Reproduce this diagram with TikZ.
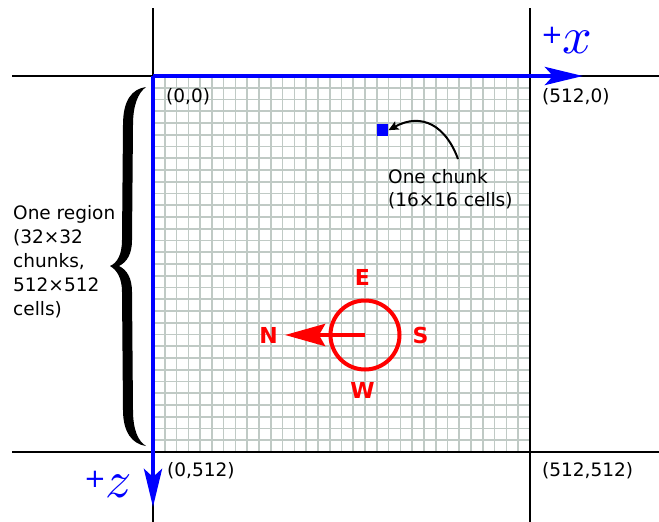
\documentclass[tikz,border=0pt]{standalone}
\usepackage{graphicx}
\usepackage{fontspec}
\setmainfont{DejaVu Sans}
\usetikzlibrary{arrows.meta}
\definecolor{gridc}{RGB}{192,202,197}
\definecolor{axblue}{RGB}{0,0,255}
\definecolor{cred}{RGB}{255,0,0}
\tikzset{
  gridline/.style={gridc, line width=1.6},
  frameline/.style={black, line width=2},
  axis/.style={axblue, line width=4.5, -{Stealth[length=38pt,width=18pt,inset=8pt]}},
  lbl/.style={inner sep=0, font=\fontsize{18.5}{24}\selectfont},
  dirlbl/.style={inner sep=0, text=cred, font=\fontsize{22}{24}\selectfont\bfseries},
}
\newcommand{\biglet}[1]{\scalebox{5.2}{\fontsize{10}{12}\selectfont$#1$}}
\begin{document}
\begin{tikzpicture}[x=1pt,y=-1pt]
\useasboundingbox (0,0) rectangle (659,522);
% grid
\foreach \i in {1,...,31} {
  \draw[gridline] ({153+\i*11.78},76) -- ++(0,376);
  \draw[gridline] (153,{76+\i*11.75}) -- ++(377,0);
}
% frame lines
\coordinate (vl1) at (153,8);  \coordinate (vl2) at (153,522);
\coordinate (vr1) at (530,8);  \coordinate (vr2) at (530,522);
\coordinate (ht1) at (12,76);  \coordinate (ht2) at (659,76);
\coordinate (hb1) at (12,452); \coordinate (hb2) at (659,452);
\draw[frameline] (vl1) -- (vl2);
\draw[frameline] (vr1) -- (vr2);
\draw[frameline] (ht1) -- (ht2);
\draw[frameline] (hb1) -- (hb2);
% axes
\coordinate (O) at (153,76);
\coordinate (xend) at (583,76);
\coordinate (zend) at (153,507);
\draw[axis] (O) -- (xend);
\draw[axis] (O) -- (zend);
\node[anchor=base west, inner sep=0, text=axblue] (xlab) at (541,53)
  {\fontsize{26}{26}\selectfont\raisebox{9.6pt}{+}\biglet{x}};
\node[anchor=base west, inner sep=0, text=axblue] (zlab) at (84,497)
  {\fontsize{26}{26}\selectfont\raisebox{9.6pt}{+}\biglet{z}};
% corner labels
\node[lbl, anchor=base west] (c00) at (166,102) {(0,0)};
\node[lbl, anchor=base west] (c10) at (542,102) {(512,0)};
\node[lbl, anchor=base west] (c01) at (167,476) {(0,512)};
\node[lbl, anchor=base west] (c11) at (542,476) {(512,512)};
% chunk
\node[fill=axblue, minimum width=11, minimum height=12, inner sep=0, anchor=north west] (chunk) at (377,124) {};
\node[lbl, anchor=north west, align=left, font=\fontsize{18.5}{23}\selectfont] (chunktxt) at (388,169.5) {One chunk\\(16×16 cells)};
\coordinate (cstart) at (458,159);
\draw[line width=2, -{Stealth[length=10pt,width=9pt,inset=2pt]}] (cstart) .. controls (446,126) and (422,112) .. (chunk.east);
% region brace
\fill[black] (146,87)
  .. controls (132,89) and (123,100) .. (123,125)
  -- (122,240)
  .. controls (122,255) and (117,263) .. (110,266)
  .. controls (117,270) and (122,278) .. (122,292)
  -- (123,410)
  .. controls (123,432) and (132,444) .. (146,446)
  .. controls (138,441) and (133,430) .. (133,410)
  -- (132,292)
  .. controls (132,278) and (127,270) .. (119,266)
  .. controls (127,262) and (132,254) .. (132,240)
  -- (133,125)
  .. controls (133,105) and (138,93) .. (146,87) -- cycle;
\node[lbl, anchor=north west, align=left] (regtxt) at (13,205)
  {One region\\(32×32\\chunks,\\512×512\\cells)};
% compass
\node[circle, draw=cred, line width=4, minimum size=69, inner sep=0] (compass) at (365,335) {};
\coordinate (ntip) at (285,335);
\draw[cred, line width=4.5, -{Stealth[length=40pt,width=22pt,inset=6pt]}] (compass.center) -- (ntip);
\node[dirlbl] (E) at (362.5,277) {E};
\node[dirlbl] (S) at (420.5,335.5) {S};
\node[dirlbl] (W) at (362.5,390.5) {W};
\node[dirlbl] (N) at (268.5,335) {N};
\end{tikzpicture}
\end{document}
